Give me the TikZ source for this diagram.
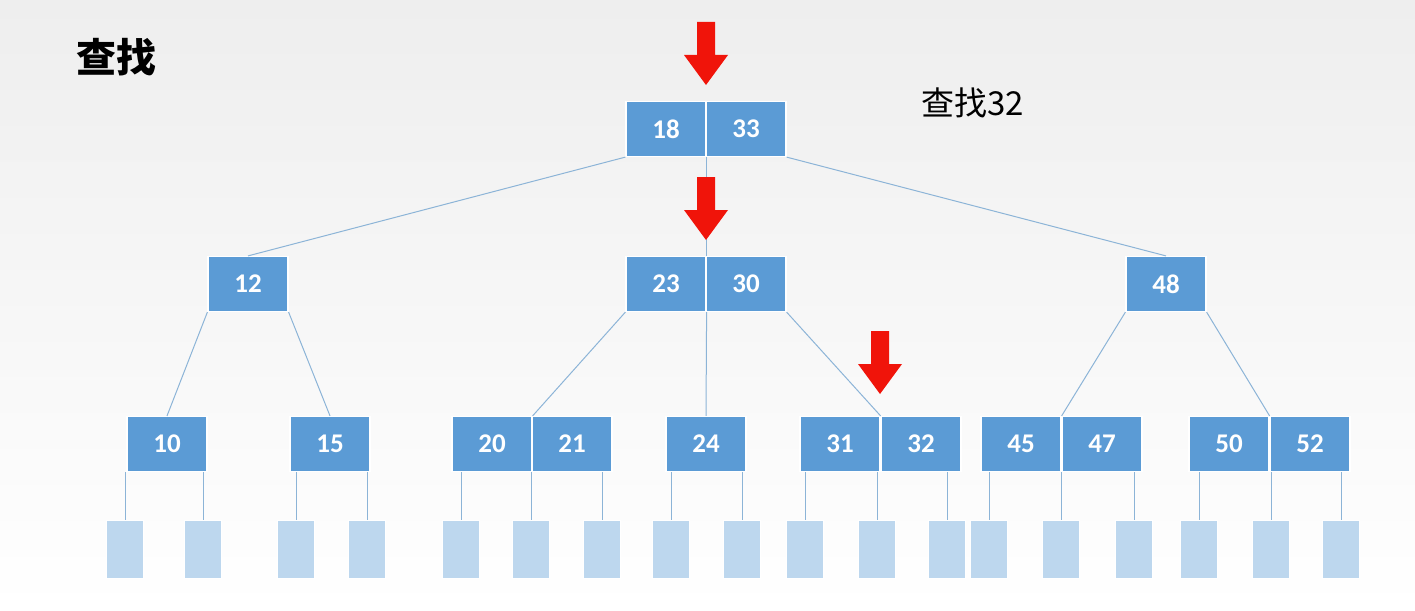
\documentclass[tikz,border=0pt]{standalone}
\usepackage{fontspec}
\setmainfont{Carlito}
\newfontfamily\cjk{Noto Sans CJK SC}
\begin{document}
\begin{tikzpicture}[x=1pt,y=-1pt,
  cell/.style={draw=white,line width=1.2pt,fill={rgb,255:red,91;green,155;blue,213},text=white,font=\fontsize{27}{30}\selectfont\bfseries,minimum width=80pt,minimum height=55pt,inner sep=0pt},
  leaf/.style={fill={rgb,255:red,189;green,215;blue,238},draw=white,minimum width=37pt,minimum height=58pt,inner sep=0pt},
  edge/.style={draw={rgb,255:red,140;green,180;blue,215},line width=1pt},
  redarrow/.style={fill={rgb,255:red,240;green,20;blue,10},draw=none}]
\shade[top color={rgb,255:red,238;green,238;blue,238},bottom color=white] (0,0) rectangle (1415,610);
\useasboundingbox (0,0) rectangle (1415,610);
\node[font=\cjk\bfseries\fontsize{40}{44}\selectfont,anchor=west] (title) at (73,57) {查找};
\node[font=\cjk\fontsize{33}{36}\selectfont,anchor=west] (q) at (918,103) {查找32};
% cells
\foreach \n/\t/\x/\y in {r1/18/666/129,r2/33/746/129,
  a/12/248/284,b1/23/666/284,b2/30/746/284,c/48/1166/284,
  d/10/167/444,e/15/330/444,f1/20/492/444,f2/21/572/444,g/24/706/444,
  h1/31/840/444,h2/32/921/444,i1/45/1021/444,i2/47/1102/444,j1/50/1229/444,j2/52/1310/444}
  \node[cell] (\n) at (\x,\y) {\t};
% leaves
\foreach \k/\x in {1/125,2/203,3/296,4/367,5/461,6/531,7/602,8/671,9/742,10/805,11/877,12/947,13/989,14/1061,15/1134,16/1199,17/1271,18/1341}
  \node[leaf] (L\k) at (\x,549) {};
% edges
\draw[edge] (r1.south west) -- (a.north);
\draw[edge] (r1.south east) -- (b1.north east);
\draw[edge] (r2.south east) -- (c.north);
\draw[edge] (a.south west) -- (d.north);
\draw[edge] (a.south east) -- (e.north);
\draw[edge] (b1.south west) -- (f1.north east);
\draw[edge] (b1.south east) -- (g.north);
\draw[edge] (b2.south east) -- (h1.north east);
\draw[edge] (c.south west) -- (i1.north east);
\draw[edge] (c.south east) -- (j1.north east);
\foreach \p/\k in {d/1,d/2,e/3,e/4,f1/5,f1/6,f2/7,g/8,g/9,h1/10,h1/11,h2/12,i1/13,i1/14,i2/15,j1/16,j1/17,j2/18}
  \draw[edge] (\p.south -| L\k.north) -- (L\k.north);
% red arrows
\foreach \x/\y in {706/22,706/177,880/331}
  \fill[redarrow] (\x-9,\y) -- (\x+9,\y) -- (\x+9,\y+33) -- (\x+22,\y+33) -- (\x,\y+63) -- (\x-22,\y+33) -- (\x-9,\y+33) -- cycle;
\end{tikzpicture}
\end{document}
